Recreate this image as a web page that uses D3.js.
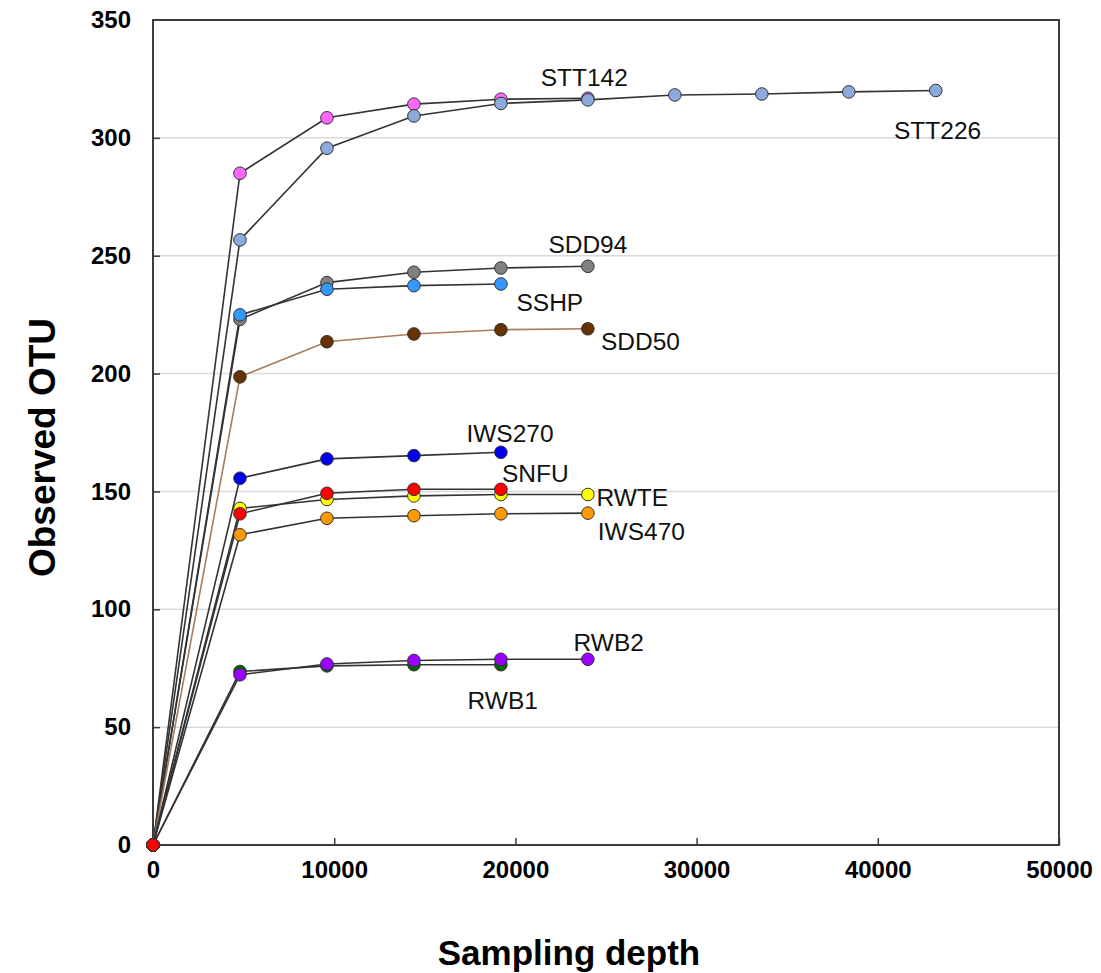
<!DOCTYPE html>
<html>
<head>
<meta charset="utf-8">
<script src="https://cdn.jsdelivr.net/npm/d3@7"></script>
<style>
  html, body { margin: 0; padding: 0; background: #fff; }
  svg { display: block; }
</style>
</head>
<body>
<div id="chart"></div>
<script>
// ---- Data ----
const depths = [0, 4800, 9600, 14400, 19200, 24000, 28800, 33600, 38400, 43200];
const seriesNames = ["STT142","STT226","SDD94","SSHP","SDD50","IWS270","RWTE","IWS470","RWB1","RWB2","SNFU"];
const STT142 = [0, 285, 308.5, 314.3, 316.4, 316.8];
const STT226 = [0, 256.7, 295.6, 309.3, 314.6, 316.1, 318.2, 318.6, 319.5, 320.1];
const SDD94  = [0, 223.0, 238.6, 243.0, 244.8, 245.5];
const SSHP   = [0, 224.9, 235.8, 237.3, 238.0];
const SDD50  = [0, 198.6, 213.5, 216.8, 218.6, 219.0];
const IWS270 = [0, 155.6, 163.8, 165.2, 166.6];
const RWTE   = [0, 142.8, 146.6, 148.1, 148.7, 148.7];
const IWS470 = [0, 131.6, 138.6, 139.7, 140.5, 140.8];
const RWB1   = [0, 73.6, 76.0, 76.5, 76.5];
const RWB2   = [0, 72.2, 76.8, 78.3, 78.8, 78.8];
const SNFU   = [0, 140.5, 149.2, 150.9, 150.9];
const seriesValues = [STT142, STT226, SDD94, SSHP, SDD50, IWS270, RWTE, IWS470, RWB1, RWB2, SNFU];

// label annotations (data units)
const labelNames = ["STT142","STT226","SDD94","SSHP","SDD50","IWS270","SNFU","RWTE","IWS470","RWB2","RWB1"];
const labelX = [23800, 43300, 24000, 21900, 26900, 19700, 21100, 26450, 26950, 25150, 19300];
const labelY = [325.8, 303.3, 254.6, 230.0, 213.4, 174.4, 157.4, 147.6, 132.8, 85.7, 61.1];

const xTicks = [0, 10000, 20000, 30000, 40000, 50000];
const yTicks = [0, 50, 100, 150, 200, 250, 300, 350];
const gridValues = [50, 100, 150, 200, 250, 300];

// ---- Styles ----
const fills = {
  STT142: "#ff66ff", STT226: "#8eaadc", SDD94: "#808080", SSHP: "#3399ff",
  SDD50: "#663300", IWS270: "#0000ee", RWTE: "#ffff00", IWS470: "#ff9900",
  RWB1: "#006600", RWB2: "#9900ff", SNFU: "#ff0000"
};
const lineColors = { SDD50: "#a67c5b" };
const FONT = "Liberation Sans, Arial, sans-serif";

const W = 1101, H = 973;
const mLeft = 153, mRight = 1059, mTop = 20, mBottom = 845;

const svg = d3.select("#chart").append("svg").attr("width", W).attr("height", H);

const x = d3.scaleLinear().domain([0, 50000]).range([mLeft, mRight]);
const y = d3.scaleLinear().domain([0, 350]).range([mBottom, mTop]);

// gridlines
svg.append("g").selectAll("line").data(gridValues).join("line")
  .attr("x1", mLeft).attr("x2", mRight)
  .attr("y1", d => y(d)).attr("y2", d => y(d))
  .attr("stroke", "#d9d9d9").attr("stroke-width", 1.5);

// frame
svg.append("rect").attr("x", mLeft).attr("y", mTop)
  .attr("width", mRight - mLeft).attr("height", mBottom - mTop)
  .attr("fill", "none").attr("stroke", "#3c3c3c").attr("stroke-width", 2);

// axes
const xAxis = d3.axisBottom(x).tickValues(xTicks).tickFormat(d3.format("d"))
  .tickSizeInner(-7).tickSizeOuter(0).tickPadding(16);
const gx = svg.append("g").attr("transform", `translate(0,${mBottom})`).call(xAxis);
gx.select(".domain").remove();
gx.selectAll(".tick line").attr("stroke", "#3c3c3c").attr("stroke-width", 1.5);
gx.selectAll(".tick text").attr("font-family", FONT)
  .attr("font-weight", "bold").attr("font-size", 24).attr("fill", "#000");

const yAxis = d3.axisLeft(y).tickValues(yTicks).tickFormat(d3.format("d"))
  .tickSizeInner(-7).tickSizeOuter(0).tickPadding(22);
const gy = svg.append("g").attr("transform", `translate(${mLeft},0)`).call(yAxis);
gy.select(".domain").remove();
gy.selectAll(".tick line").attr("stroke", "#3c3c3c").attr("stroke-width", 1.5)
  .filter(d => d === 0 || d === 350).remove();
gy.selectAll(".tick text").attr("font-family", FONT)
  .attr("font-weight", "bold").attr("font-size", 24).attr("fill", "#000");

// lines
const line = d3.line().x(d => x(d[0])).y(d => y(d[1]));
const series = seriesNames.map((n, i) => ({
  name: n,
  pts: seriesValues[i].map((v, j) => [depths[j], v])
}));

const gLines = svg.append("g");
series.forEach(s => {
  gLines.append("path").datum(s.pts)
    .attr("d", line).attr("fill", "none")
    .attr("stroke", lineColors[s.name] || "#333")
    .attr("stroke-width", 1.6);
});

// markers (drawn per series in order)
series.forEach(s => {
  svg.append("g").selectAll("circle").data(s.pts).join("circle")
    .attr("cx", d => x(d[0])).attr("cy", d => y(d[1]))
    .attr("r", 6.3)
    .attr("fill", fills[s.name])
    .attr("stroke", "#333").attr("stroke-width", 1);
});

// labels
svg.append("g").selectAll("text").data(labelNames).join("text")
  .attr("x", (d, i) => x(labelX[i])).attr("y", (d, i) => y(labelY[i]))
  .attr("text-anchor", "middle").attr("dominant-baseline", "central")
  .attr("font-family", FONT)
  .attr("font-size", 24.5).attr("fill", "#111")
  .text(d => d);

// axis titles
svg.append("text")
  .attr("x", 569).attr("y", 952)
  .attr("text-anchor", "middle").attr("dominant-baseline", "central")
  .attr("font-family", FONT)
  .attr("font-weight", "bold").attr("font-size", 35).attr("fill", "#000")
  .text("Sampling depth");

svg.append("text")
  .attr("transform", `translate(42,${(mTop + mBottom) / 2 + 15}) rotate(-90)`)
  .attr("text-anchor", "middle").attr("dominant-baseline", "central")
  .attr("font-family", FONT)
  .attr("font-weight", "bold").attr("font-size", 37).attr("fill", "#000")
  .text("Observed OTU");
</script>
</body>
</html>
